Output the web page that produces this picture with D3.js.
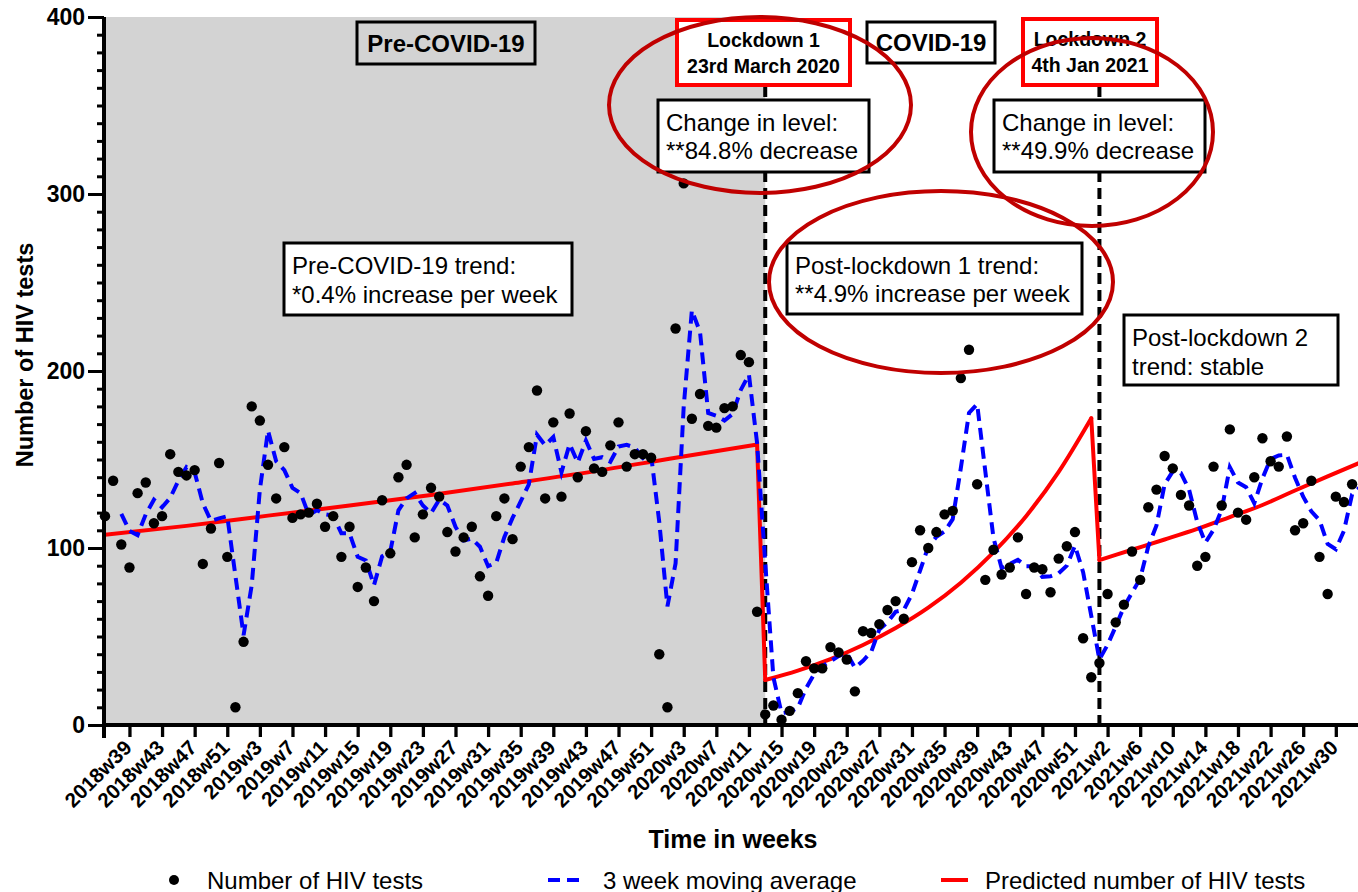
<!DOCTYPE html>
<html><head><meta charset="utf-8">
<script src="https://cdn.jsdelivr.net/npm/d3@7"></script>
<style>
html,body{margin:0;padding:0;background:#fff;}
svg{display:block;font-family:Arial,"Liberation Sans",sans-serif;}
</style>
</head><body>
<svg id="chart" width="1358" height="892"></svg>
<script>
// ---------- DATA ----------
const weeks = [
"2018w36","2018w37","2018w38","2018w39","2018w40","2018w41","2018w42","2018w43","2018w44","2018w45","2018w46","2018w47","2018w48","2018w49","2018w50","2018w51","2018w52",
"2019w1","2019w2","2019w3","2019w4","2019w5","2019w6","2019w7","2019w8","2019w9","2019w10","2019w11","2019w12","2019w13","2019w14","2019w15","2019w16","2019w17","2019w18","2019w19","2019w20","2019w21","2019w22","2019w23","2019w24","2019w25","2019w26","2019w27","2019w28","2019w29","2019w30","2019w31","2019w32","2019w33","2019w34","2019w35","2019w36","2019w37","2019w38","2019w39","2019w40","2019w41","2019w42","2019w43","2019w44","2019w45","2019w46","2019w47","2019w48","2019w49","2019w50","2019w51","2019w52",
"2020w1","2020w2","2020w3","2020w4","2020w5","2020w6","2020w7","2020w8","2020w9","2020w10","2020w11","2020w12","2020w13","2020w14","2020w15","2020w16","2020w17","2020w18","2020w19","2020w20","2020w21","2020w22","2020w23","2020w24","2020w25","2020w26","2020w27","2020w28","2020w29","2020w30","2020w31","2020w32","2020w33","2020w34","2020w35","2020w36","2020w37","2020w38","2020w39","2020w40","2020w41","2020w42","2020w43","2020w44","2020w45","2020w46","2020w47","2020w48","2020w49","2020w50","2020w51","2020w52","2020w53",
"2021w1","2021w2","2021w3","2021w4","2021w5","2021w6","2021w7","2021w8","2021w9","2021w10","2021w11","2021w12","2021w13","2021w14","2021w15","2021w16","2021w17","2021w18","2021w19","2021w20","2021w21","2021w22","2021w23","2021w24","2021w25","2021w26","2021w27","2021w28","2021w29","2021w30","2021w31","2021w32","2021w33"
];

const hivTests = [
118,138,102,89,131,137,114,118,153,143,
141,144,91,111,148,95,10,47,180,172,
147,128,157,117,119,120,125,112,118,95,
112,78,89,70,127,97,140,147,106,119,
134,129,109,98,106,112,84,73,118,128,
105,146,157,189,128,171,129,176,140,166,
145,143,158,171,146,153,153,151,40,10,
224,306,173,187,169,168,179,180,209,205,
64,6,11,3,8,18,36,32,32,44,
41,37,19,53,52,57,65,70,60,92,
110,100,109,119,121,196,212,136,82,99,
85,89,106,74,89,88,75,94,101,109,
49,27,35,74,58,68,98,82,123,133,
152,145,130,124,90,95,146,124,167,120,
116,140,162,149,146,163,110,114,138,95,
74,129,126,136
];

const movingAverage = [
null,null,119.3,109.7,107.3,119.0,127.3,123.0,128.3,138.0,
145.7,142.7,125.3,115.3,116.7,118.0,84.3,50.7,79.0,133.0,
166.3,149.0,144.0,134.0,131.0,118.7,121.3,119.0,118.3,108.3,
108.3,95.0,93.0,79.0,95.3,98.0,121.3,128.0,131.0,124.0,
119.7,127.3,124.0,112.0,104.3,105.3,100.7,89.7,91.7,106.3,
117.0,126.3,136.0,164.0,158.0,162.7,142.7,158.7,148.3,160.7,
150.3,151.3,148.7,157.3,158.3,156.7,150.7,152.3,114.7,67.0,
91.3,180.0,234.3,222.0,176.3,174.7,172.0,175.7,189.3,198.0,
159.3,91.7,27.0,6.7,7.3,9.7,20.7,28.7,33.3,36.0,
39.0,40.7,32.3,36.3,41.3,54.0,58.0,64.0,65.0,74.0,
87.3,100.7,106.3,109.3,116.3,145.3,176.3,181.3,143.3,105.7,
88.7,91.0,93.3,89.7,89.7,83.7,84.0,85.7,90.0,101.3,
86.3,61.7,37.0,45.3,55.7,66.7,74.7,82.7,101.0,112.7,
136.0,143.3,142.3,133.0,114.7,103.0,110.3,121.7,145.7,137.0,
134.3,125.3,139.3,150.3,152.3,152.7,139.7,129.0,120.7,115.7,
102.3,99.3,109.7,130.3,134.5
];

const predictedPre = [
["2018w36",107.5],["2018w46",112.5],["2019w4",118.3],["2019w14",124],["2019w24",130],
["2019w34",136.5],["2019w44",143.3],["2020w2",151],["2020w12",158.5]
];
const predictedPostLockdown1 = [
["2020w13",25.4],["2020w17",30.7],["2020w21",37.2],["2020w25",45.2],["2020w29",54.8],
["2020w33",66.3],["2020w37",80.4],["2020w41",97.5],["2020w45",118],["2020w49",143],["2020w53",173.3]
];
const predictedPostLockdown2 = [
["2021w1",93.2],["2021w5",99],["2021w9",104.8],["2021w13",110.8],["2021w17",117.5],
["2021w21",124.3],["2021w25",132.5],["2021w29",140.5],["2021w33",148.3]
];

const xTickLabels = [
"2018w39","2018w43","2018w47","2018w51",
"2019w3","2019w7","2019w11","2019w15","2019w19","2019w23","2019w27","2019w31","2019w35","2019w39","2019w43","2019w47","2019w51",
"2020w3","2020w7","2020w11","2020w15","2020w19","2020w23","2020w27","2020w31","2020w35","2020w39","2020w43","2020w47","2020w51",
"2021w2","2021w6","2021w10","2021w14","2021w18","2021w22","2021w26","2021w30"
];
const yMajorTicks = [0,100,200,300,400];
const yMinorTicks = d3.range(0, 401, 10);

const lockdownWeeks = ["2020w13","2021w1"];
const lockdownTitles = [["Lockdown 1","23rd March 2020"],["Lockdown 2","4th Jan 2021"]];
const levelChanges = [["Change in level:","**84.8% decrease"],["Change in level:","**49.9% decrease"]];
const legendLabels = ["Number of HIV tests","3 week moving average","Predicted number of HIV tests"];

// ---------- SETUP ----------
const svg = d3.select("#chart");
const W = 1358, H = 892;
const idx = w => weeks.indexOf(w);
const x = d3.scaleLinear().domain([0, weeks.length - 1]).range([105, 105 + (weeks.length - 1) * 8.151]);
const y = d3.scaleLinear().domain([0, 400]).range([725, 17]);
const FONT = 'Arial,"Liberation Sans",sans-serif';

// shaded pre-COVID period
svg.append("rect")
  .attr("x", x(0)).attr("y", y(400))
  .attr("width", x(idx(lockdownWeeks[0])) - x(0))
  .attr("height", y(0) - y(400))
  .attr("fill", "#d3d3d3");

// lockdown vertical dashed lines
svg.selectAll(".lock").data(lockdownWeeks).join("line")
  .attr("x1", d => x(idx(d))).attr("x2", d => x(idx(d)))
  .attr("y1", 86).attr("y2", y(0))
  .attr("stroke", "#000").attr("stroke-width", 4)
  .attr("stroke-dasharray", "11,6");

// predicted (red)
const lineP = d3.line().x(d => x(idx(d[0]))).y(d => y(d[1])).curve(d3.curveMonotoneX);
[predictedPre, predictedPostLockdown1, predictedPostLockdown2].forEach(seg => {
  svg.append("path").attr("d", lineP(seg))
    .attr("fill", "none").attr("stroke", "#ff0000").attr("stroke-width", 4)
    .attr("stroke-linejoin", "round").attr("stroke-linecap", "round");
});
const drops = [
  [predictedPre[predictedPre.length - 1], predictedPostLockdown1[0]],
  [predictedPostLockdown1[predictedPostLockdown1.length - 1], predictedPostLockdown2[0]]
];
drops.forEach(pr => {
  svg.append("path").attr("d", d3.line().x(d => x(idx(d[0]))).y(d => y(d[1]))(pr))
    .attr("fill", "none").attr("stroke", "#ff0000").attr("stroke-width", 4)
    .attr("stroke-linecap", "round");
});

// moving average (blue dashed)
const maData = movingAverage.map((v, i) => ({i, v})).filter(d => d.v !== null);
svg.append("path")
  .attr("d", d3.line().x(d => x(d.i)).y(d => y(d.v))(maData))
  .attr("fill", "none").attr("stroke", "#0000ff").attr("stroke-width", 4)
  .attr("stroke-dasharray", "12,7");

// points
svg.selectAll(".pt").data(hivTests).join("circle")
  .attr("cx", (d, i) => x(i)).attr("cy", d => y(d)).attr("r", 5.2).attr("fill", "#000");

// ---------- AXES ----------
const yMinor = svg.append("g").attr("transform", "translate(104,0)")
  .call(d3.axisLeft(y).tickValues(yMinorTicks).tickSize(7).tickSizeOuter(0).tickFormat(""));
const yMajor = svg.append("g").attr("transform", "translate(104,0)")
  .call(d3.axisLeft(y).tickValues(yMajorTicks).tickSize(16).tickSizeOuter(0).tickPadding(3).tickFormat(d3.format("d")));
[yMinor, yMajor].forEach(g => {
  g.select(".domain").remove();
  g.selectAll(".tick line").attr("stroke", "#000").attr("stroke-width", 3);
});
yMajor.selectAll(".tick text").attr("font-family", FONT).attr("font-size", 23)
  .attr("font-weight", "bold").attr("fill", "#000");

const tickIdx = xTickLabels.map(idx);
const xAx = svg.append("g").attr("transform", "translate(0,725)")
  .call(d3.axisBottom(x).tickValues(tickIdx).tickSize(12).tickSizeOuter(0)
    .tickFormat(d => weeks[d]));
xAx.select(".domain").remove();
xAx.selectAll(".tick line").attr("stroke", "#000").attr("stroke-width", 3.3);
xAx.selectAll(".tick text")
  .attr("x", 0).attr("y", 0).attr("dy", 0)
  .attr("text-anchor", "end")
  .attr("transform", "translate(3,24) rotate(-45)")
  .attr("font-family", FONT).attr("font-size", 20.5).attr("font-weight", "bold").attr("fill", "#000");

// axis lines
svg.append("line").attr("x1", 102).attr("x2", W).attr("y1", 725).attr("y2", 725)
  .attr("stroke", "#000").attr("stroke-width", 4);
svg.append("line").attr("x1", 104).attr("x2", 104).attr("y1", 17).attr("y2", 738)
  .attr("stroke", "#000").attr("stroke-width", 4);

// axis titles
svg.append("text").attr("transform", "translate(33,355) rotate(-90)")
  .attr("text-anchor", "middle").attr("font-family", FONT).attr("font-size", 23.5)
  .attr("font-weight", "bold").text("Number of HIV tests");
svg.append("text").attr("x", 733).attr("y", 848)
  .attr("text-anchor", "middle").attr("font-family", FONT).attr("font-size", 25)
  .attr("font-weight", "bold").text("Time in weeks");

// ---------- ANNOTATION BOXES ----------
function box(x0, y0, w, h, opts) {
  const g = svg.append("g");
  g.append("rect").attr("x", x0).attr("y", y0).attr("width", w).attr("height", h)
    .attr("fill", opts.fill || "#fff").attr("stroke", opts.stroke || "#000")
    .attr("stroke-width", opts.sw || 3);
  opts.lines.forEach((t, k) => {
    g.append("text")
      .attr("x", opts.center ? x0 + w / 2 : x0 + 8)
      .attr("y", y0 + opts.base[k])
      .attr("text-anchor", opts.center ? "middle" : "start")
      .attr("font-family", FONT).attr("font-size", opts.fs)
      .attr("font-weight", opts.bold ? "bold" : "normal")
      .attr("fill", "#000").text(t);
  });
}
box(357, 22, 178, 42, {fill: "#d3d3d3", lines: ["Pre-COVID-19"], base: [29.5], fs: 24, bold: true, center: true});
box(867, 22, 128, 41, {lines: ["COVID-19"], base: [29], fs: 24, bold: true, center: true});
box(677, 20, 173, 65, {stroke: "#ff0000", sw: 4, lines: lockdownTitles[0], base: [26.5, 52.5], fs: 19.5, bold: true, center: true});
box(1023, 19, 134, 66, {stroke: "#ff0000", sw: 4, lines: lockdownTitles[1], base: [26.5, 52.5], fs: 19.5, bold: true, center: true});
box(658, 100, 211, 72, {lines: levelChanges[0], base: [31, 58.5], fs: 24});
box(994, 100, 211, 72, {lines: levelChanges[1], base: [31, 58.5], fs: 24});
box(284, 243, 288, 72, {lines: ["Pre-COVID-19 trend:", "*0.4% increase per week"], base: [31, 59.5], fs: 24});
box(787, 243, 295, 71, {lines: ["Post-lockdown 1 trend:", "**4.9% increase per week"], base: [31, 59], fs: 24});
box(1124, 315, 214, 70, {lines: ["Post-lockdown 2", "trend: stable"], base: [31, 59.5], fs: 24});

// ellipses
const ellipses = [[760, 105, 151, 88], [1092, 132, 121, 94], [941, 282, 172, 91]];
svg.selectAll(".ell").data(ellipses).join("ellipse")
  .attr("cx", d => d[0]).attr("cy", d => d[1]).attr("rx", d => d[2]).attr("ry", d => d[3])
  .attr("fill", "none").attr("stroke", "#c00000").attr("stroke-width", 4);

// ---------- LEGEND ----------
const LY = 880;
svg.append("circle").attr("cx", 174).attr("cy", LY).attr("r", 5).attr("fill", "#000");
svg.append("line").attr("x1", 548).attr("x2", 584).attr("y1", LY).attr("y2", LY)
  .attr("stroke", "#0000ff").attr("stroke-width", 4).attr("stroke-dasharray", "12,7");
svg.append("line").attr("x1", 941).attr("x2", 968).attr("y1", LY).attr("y2", LY)
  .attr("stroke", "#ff0000").attr("stroke-width", 4);
[[207, legendLabels[0]], [603, legendLabels[1]], [985, legendLabels[2]]].forEach(([lx, t]) => {
  svg.append("text").attr("x", lx).attr("y", LY + 8.5).attr("font-family", FONT)
    .attr("font-size", 24).attr("fill", "#000").text(t);
});
</script>
</body></html>
